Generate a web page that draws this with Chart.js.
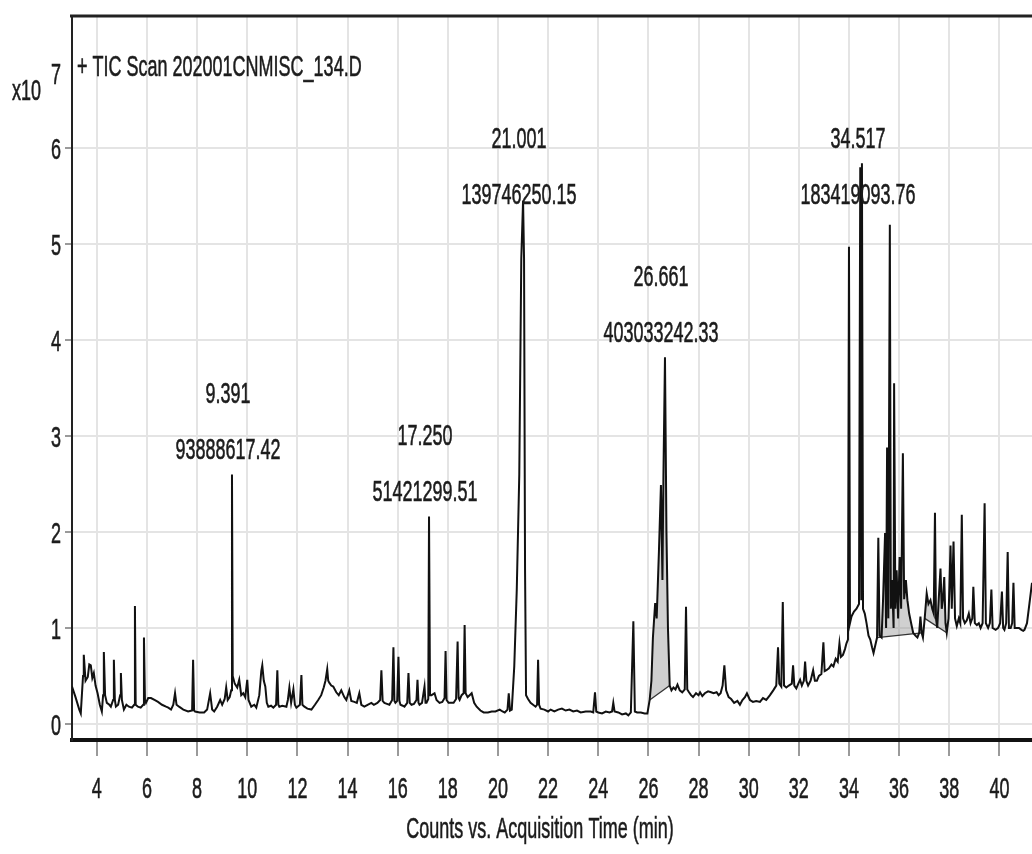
<!DOCTYPE html>
<html>
<head>
<meta charset="utf-8">
<script src="https://cdn.jsdelivr.net/npm/chart.js@4/dist/chart.umd.min.js"></script>
<style>
  body { margin: 0; background: #fff; }
  canvas { display: block; }
</style>
</head>
<body>
<canvas id="tic" width="1032" height="854"></canvas>
<script>
// acquisition time (min) and counts (x10^7)
const times = [
  3.01, 3.15, 3.3, 3.36, 3.45, 3.48, 3.55, 3.64, 3.7, 3.76, 3.82, 3.88, 3.95, 4.03, 4.12, 4.2, 4.25, 4.28, 4.33, 4.4,
  4.5, 4.56, 4.65, 4.68, 4.72, 4.76, 4.85, 4.93, 4.96, 5.0, 5.08, 5.18, 5.28, 5.4, 5.49, 5.52, 5.55, 5.64, 5.75, 5.85,
  5.88, 5.92, 5.96, 6.05, 6.16, 6.3, 6.44, 6.6, 6.76, 6.85, 6.96, 7.05, 7.12, 7.18, 7.28, 7.45, 7.64, 7.8, 7.84, 7.88,
  7.92, 8.1, 8.28, 8.4, 8.52, 8.6, 8.68, 8.8, 8.92, 9.0, 9.1, 9.16, 9.22, 9.3, 9.36, 9.391, 9.42, 9.5, 9.6, 9.68,
  9.76, 9.84, 9.92, 10.0, 10.05, 10.16, 10.28, 10.36, 10.48, 10.56, 10.6, 10.66, 10.72, 10.78, 10.84, 10.95, 11.04, 11.15, 11.2, 11.24,
  11.28, 11.4, 11.56, 11.62, 11.68, 11.75, 11.84, 11.9, 11.96, 12.1, 12.16, 12.2, 12.28, 12.4, 12.56, 12.7, 12.83, 12.95, 13.05, 13.12,
  13.19, 13.23, 13.27, 13.35, 13.43, 13.55, 13.65, 13.75, 13.87, 13.95, 14.07, 14.15, 14.27, 14.37, 14.47, 14.55, 14.67, 14.8, 14.95, 15.05,
  15.19, 15.3, 15.35, 15.4, 15.47, 15.57, 15.67, 15.78, 15.83, 15.87, 15.91, 15.98, 16.03, 16.07, 16.11, 16.2, 16.27, 16.38, 16.43, 16.48,
  16.55, 16.65, 16.75, 16.79, 16.83, 16.87, 16.97, 17.07, 17.11, 17.15, 17.22, 17.25, 17.29, 17.35, 17.47, 17.55, 17.67, 17.78, 17.87, 17.91,
  17.95, 18.03, 18.13, 18.23, 18.33, 18.39, 18.43, 18.47, 18.55, 18.63, 18.67, 18.71, 18.79, 18.87, 18.95, 19.05, 19.15, 19.3, 19.43, 19.6,
  19.75, 19.9, 20.07, 20.18, 20.27, 20.38, 20.43, 20.48, 20.55, 20.65, 20.75, 20.85, 20.93, 21.001, 21.04, 21.08, 21.12, 21.2, 21.3, 21.4,
  21.5, 21.56, 21.6, 21.64, 21.7, 21.85, 22.0, 22.1, 22.25, 22.4, 22.55, 22.7, 22.85, 23.0, 23.15, 23.3, 23.5, 23.7, 23.8, 23.87,
  23.92, 24.0, 24.15, 24.3, 24.45, 24.55, 24.6, 24.65, 24.8, 24.95, 25.1, 25.2, 25.3, 25.4, 25.46, 25.55, 25.7, 25.85, 25.96, 26.05,
  26.12, 26.18, 26.27, 26.33, 26.42, 26.5, 26.56, 26.6, 26.661, 26.72, 26.78, 26.85, 26.92, 27.0, 27.08, 27.16, 27.25, 27.35, 27.45, 27.5,
  27.55, 27.62, 27.7, 27.78, 27.9, 28.0, 28.06, 28.15, 28.25, 28.38, 28.5, 28.6, 28.72, 28.8, 28.88, 28.96, 29.03, 29.1, 29.2, 29.3,
  29.42, 29.55, 29.65, 29.75, 29.85, 29.93, 30.05, 30.17, 30.3, 30.45, 30.57, 30.7, 30.85, 30.98, 31.1, 31.17, 31.22, 31.3, 31.36, 31.41,
  31.5, 31.6, 31.72, 31.77, 31.82, 31.9, 31.98, 32.05, 32.12, 32.2, 32.25, 32.3, 32.37, 32.47, 32.57, 32.64, 32.72, 32.8, 32.9, 32.98,
  33.03, 33.1, 33.2, 33.3, 33.38, 33.47, 33.55, 33.62, 33.68, 33.76, 33.84, 33.9, 33.96, 34.0, 34.04, 34.1, 34.2, 34.3, 34.4, 34.45,
  34.49, 34.517, 34.56, 34.63, 34.7, 34.78, 34.85, 34.92, 34.98, 35.05, 35.12, 35.17, 35.22, 35.3, 35.36, 35.44, 35.48, 35.52, 35.57, 35.63,
  35.67, 35.72, 35.78, 35.8, 35.85, 35.9, 35.96, 36.02, 36.08, 36.15, 36.2, 36.27, 36.33, 36.4, 36.48, 36.56, 36.65, 36.73, 36.8, 36.85,
  36.9, 36.95, 37.02, 37.1, 37.17, 37.25, 37.32, 37.38, 37.43, 37.47, 37.52, 37.58, 37.65, 37.7, 37.75, 37.8, 37.85, 37.9, 37.97, 38.05,
  38.1, 38.17, 38.23, 38.3, 38.38, 38.44, 38.5, 38.55, 38.62, 38.7, 38.78, 38.85, 38.92, 38.96, 39.02, 39.1, 39.18, 39.25, 39.33, 39.41,
  39.46, 39.55, 39.62, 39.68, 39.73, 39.85, 39.95, 40.03, 40.1, 40.15, 40.2, 40.27, 40.33, 40.38, 40.45, 40.51, 40.56, 40.61, 40.68, 40.78,
  40.88, 40.95, 41.0, 41.1, 41.2, 41.3
];
const counts = [
  0.39, 0.28, 0.15, 0.11, 0.5, 0.72, 0.45, 0.49, 0.62, 0.61, 0.48, 0.53, 0.4, 0.32, 0.2, 0.13, 0.3, 0.75, 0.3, 0.22,
  0.2, 0.18, 0.25, 0.67, 0.25, 0.18, 0.2, 0.3, 0.53, 0.25, 0.15, 0.2, 0.18, 0.17, 0.2, 1.23, 0.2, 0.18, 0.17, 0.2,
  0.9, 0.25, 0.22, 0.27, 0.27, 0.25, 0.23, 0.2, 0.18, 0.17, 0.15, 0.2, 0.32, 0.2, 0.18, 0.15, 0.13, 0.14, 0.67, 0.14,
  0.13, 0.12, 0.12, 0.15, 0.32, 0.15, 0.13, 0.18, 0.25, 0.2, 0.26, 0.38, 0.25, 0.28, 0.35, 2.6, 0.5, 0.42, 0.38, 0.46,
  0.3, 0.32, 0.28, 0.46, 0.25, 0.18, 0.2, 0.17, 0.3, 0.55, 0.61, 0.45, 0.39, 0.22, 0.18, 0.19, 0.17, 0.2, 0.56, 0.2,
  0.18, 0.19, 0.18, 0.25, 0.38, 0.22, 0.36, 0.2, 0.17, 0.2, 0.51, 0.2, 0.18, 0.16, 0.15, 0.2, 0.25, 0.3, 0.38, 0.45,
  0.57, 0.45, 0.43, 0.4, 0.39, 0.33, 0.3, 0.35, 0.28, 0.25, 0.35, 0.24, 0.23, 0.22, 0.32, 0.2, 0.18, 0.2, 0.22, 0.2,
  0.22, 0.25, 0.56, 0.24, 0.22, 0.21, 0.2, 0.25, 0.8, 0.24, 0.22, 0.24, 0.7, 0.24, 0.2, 0.19, 0.18, 0.22, 0.53, 0.22,
  0.2, 0.21, 0.25, 0.46, 0.22, 0.2, 0.22, 0.39, 0.22, 0.22, 0.26, 2.16, 0.3, 0.3, 0.32, 0.25, 0.22, 0.23, 0.27, 0.76,
  0.25, 0.22, 0.22, 0.22, 0.26, 0.86, 0.27, 0.25, 0.3, 0.32, 1.03, 0.32, 0.28, 0.3, 0.32, 0.22, 0.18, 0.14, 0.12, 0.12,
  0.13, 0.13, 0.15, 0.13, 0.12, 0.15, 0.32, 0.14, 0.15, 0.6, 1.4, 2.6, 4.85, 5.45, 4.85, 1.6, 0.3, 0.26, 0.22, 0.2,
  0.18, 0.2, 0.67, 0.2, 0.16, 0.15, 0.13, 0.15, 0.13, 0.15, 0.16, 0.14, 0.15, 0.13, 0.14, 0.12, 0.13, 0.13, 0.12, 0.33,
  0.13, 0.12, 0.11, 0.13, 0.12, 0.13, 0.22, 0.13, 0.12, 0.1, 0.11, 0.09, 0.12, 1.07, 0.13, 0.12, 0.12, 0.11, 0.11, 0.25,
  0.45, 0.9, 1.26, 1.1, 1.8, 2.49, 1.5, 2.6, 3.82, 2.0, 1.0, 0.4, 0.35, 0.38, 0.36, 0.41, 0.35, 0.33, 0.36, 1.22,
  0.36, 0.33, 0.3, 0.28, 0.32, 0.3, 0.33, 0.29, 0.32, 0.34, 0.33, 0.32, 0.33, 0.3, 0.32, 0.4, 0.61, 0.35, 0.28, 0.26,
  0.22, 0.24, 0.2, 0.25, 0.28, 0.32, 0.25, 0.23, 0.24, 0.23, 0.27, 0.25, 0.3, 0.35, 0.4, 0.8, 0.42, 0.39, 1.27, 0.4,
  0.38, 0.4, 0.42, 0.61, 0.4, 0.37, 0.42, 0.46, 0.4, 0.45, 0.65, 0.45, 0.4, 0.45, 0.56, 0.45, 0.45, 0.5, 0.52, 0.85,
  0.55, 0.56, 0.58, 0.62, 0.6, 0.68, 0.65, 0.84, 0.7, 0.72, 0.78, 0.84, 0.88, 4.97, 1.05, 1.12, 1.17, 1.2, 1.25, 5.8,
  1.3, 5.84, 1.2, 1.15, 1.05, 0.92, 0.88, 0.8, 0.74, 0.82, 0.9, 1.94, 0.92, 0.9, 1.3, 1.99, 1.0, 2.88, 1.1, 5.2,
  1.2, 1.5, 1.0, 3.55, 1.2, 1.6, 1.1, 1.74, 1.2, 2.82, 1.3, 1.5, 1.29, 1.15, 1.05, 0.95, 0.92, 0.9, 0.95, 1.12,
  0.95, 0.9, 1.1, 1.36, 1.25, 1.29, 1.2, 1.15, 2.2, 1.1, 1.0, 1.3, 1.62, 1.2, 1.3, 1.53, 1.05, 0.95, 1.1, 1.86,
  1.2, 1.9, 1.1, 1.02, 1.1, 1.05, 2.18, 1.1, 1.05, 1.08, 1.15, 1.05, 1.1, 1.43, 1.05, 1.03, 1.05, 1.0, 1.05, 2.3,
  1.05, 1.0, 1.05, 1.4, 1.0, 0.98, 1.0, 1.05, 1.38, 1.0, 0.98, 1.05, 1.79, 1.0, 1.0, 1.05, 1.47, 1.0, 1.0, 1.0,
  0.98, 0.97, 0.98, 1.05, 1.26, 1.47
];

// labelled peaks: retention time and area
const peakTimes = [9.391, 17.250, 21.001, 26.661, 34.517];
const peakAreas = ['93888617.42', '51421299.51', '139746250.15', '403033242.33', '183419093.76'];

// integrated regions (start, end in min) shaded under the trace
const intStart = [26.05, 35.12, 37.02];
const intEnd = [26.85, 36.9, 37.9];

const xTicks = [4, 6, 8, 10, 12, 14, 16, 18, 20, 22, 24, 26, 28, 30, 32, 34, 36, 38, 40];
const yTicks = [0, 1, 2, 3, 4, 5, 6];

const chartTitle = '+ TIC Scan 202001CNMISC_134.D';
const xTitle = 'Counts vs. Acquisition Time (min)';

const FONT = '30px "Liberation Sans", Arial, sans-serif';
const SQUEEZE = 0.6;
const INK = '#1c1c1c';

// narrow text like the instrument software export
function narrowText(ctx, text, x, y, align) {
  ctx.save();
  ctx.translate(x, y);
  ctx.scale(SQUEEZE, 1);
  ctx.font = FONT;
  ctx.fillStyle = INK;
  ctx.strokeStyle = INK;
  ctx.lineWidth = 0.6;
  ctx.textAlign = align;
  ctx.textBaseline = 'middle';
  ctx.fillText(text, 0, 0);
  ctx.strokeText(text, 0, 0);
  ctx.restore();
}

const shadePlugin = {
  id: 'intShade',
  beforeDatasetsDraw(chart) {
    const ctx = chart.ctx;
    const area = chart.chartArea;
    const xs = chart.scales.x;
    const ys = chart.scales.y;
    ctx.save();
    ctx.beginPath();
    ctx.rect(area.left, area.top, area.right - area.left, area.bottom - area.top);
    ctx.clip();
    intStart.forEach((s, k) => {
      const idx = [];
      times.forEach((t, j) => { if (t >= s && t <= intEnd[k]) idx.push(j); });
      if (idx.length < 2) return;
      const a = idx[0], b = idx[idx.length - 1];
      ctx.beginPath();
      idx.forEach((j, n) => {
        const px = xs.getPixelForValue(times[j]);
        const py = ys.getPixelForValue(counts[j]);
        if (n === 0) ctx.moveTo(px, py); else ctx.lineTo(px, py);
      });
      ctx.closePath();
      ctx.fillStyle = 'rgba(150,150,150,0.45)';
      ctx.fill();
      ctx.beginPath();
      ctx.moveTo(xs.getPixelForValue(times[a]), ys.getPixelForValue(counts[a]));
      ctx.lineTo(xs.getPixelForValue(times[b]), ys.getPixelForValue(counts[b]));
      ctx.strokeStyle = '#333';
      ctx.lineWidth = 1.3;
      ctx.stroke();
    });
    ctx.restore();
  }
};

const textPlugin = {
  id: 'ticText',
  afterDraw(chart) {
    const ctx = chart.ctx;
    const area = chart.chartArea;
    const xs = chart.scales.x;
    const ys = chart.scales.y;

    // top frame line
    ctx.save();
    ctx.strokeStyle = '#222';
    ctx.lineWidth = 3;
    ctx.beginPath();
    ctx.moveTo(area.left - 2, area.top);
    ctx.lineTo(area.right, area.top);
    ctx.stroke();
    ctx.restore();

    xs.ticks.forEach(t => {
      narrowText(ctx, String(t.value), xs.getPixelForValue(t.value), 790, 'center');
    });
    ys.ticks.forEach(t => {
      narrowText(ctx, String(t.value), 61, ys.getPixelForValue(t.value) + 3, 'right');
    });

    narrowText(ctx, 'x10', 12, 92, 'left');
    narrowText(ctx, '7', 51, 76, 'left');
    narrowText(ctx, chartTitle, area.left + 5, 68, 'left');
    narrowText(ctx, xTitle, 540, 830, 'center');

    // peak labels
    peakTimes.forEach((pt, i) => {
      let top = 0;
      times.forEach((t, j) => {
        if (Math.abs(t - pt) < 0.08 && counts[j] > top) top = counts[j];
      });
      const px = xs.getPixelForValue(pt) - 4;
      const firstLine = Math.max(area.top + 124, ys.getPixelForValue(top) - 80);
      narrowText(ctx, pt.toFixed(3), px, firstLine, 'center');
      narrowText(ctx, peakAreas[i], px, firstLine + 56, 'center');
    });
  }
};

new Chart(document.getElementById('tic'), {
  type: 'line',
  data: {
    datasets: [{
      data: times.map((t, i) => ({ x: t, y: counts[i] })),
      borderColor: '#111',
      borderWidth: 2,
      pointRadius: 0,
      tension: 0,
      fill: false
    }]
  },
  options: {
    responsive: false,
    animation: false,
    layout: { padding: { top: 16, right: 0, left: 0, bottom: 0 } },
    plugins: { legend: { display: false }, tooltip: { enabled: false } },
    scales: {
      x: {
        type: 'linear',
        min: 3.01,
        max: 41.3,
        afterBuildTicks: s => { s.ticks = xTicks.map(v => ({ value: v })); },
        afterFit: s => { s.height = 114; },
        grid: { color: '#e4e4e4', lineWidth: 2, tickLength: 16, tickColor: '#9a9a9a', tickWidth: 2 },
        border: { color: '#111', width: 4 },
        ticks: { display: false }
      },
      y: {
        min: -0.167,
        max: 7.375,
        afterBuildTicks: s => { s.ticks = yTicks.map(v => ({ value: v })); },
        afterFit: s => { s.width = 72; },
        grid: { color: '#e4e4e4', lineWidth: 2, tickLength: 7, tickColor: '#9a9a9a', tickWidth: 2 },
        border: { color: '#222', width: 2 },
        ticks: { display: false }
      }
    }
  },
  plugins: [shadePlugin, textPlugin]
});
</script>
</body>
</html>
